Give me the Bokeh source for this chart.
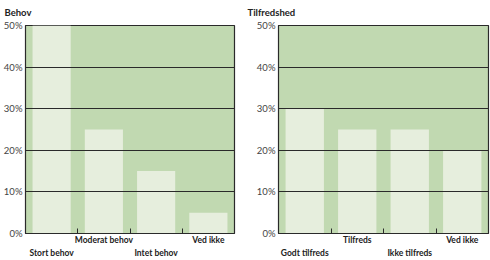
from bokeh.plotting import figure
from bokeh.layouts import row
from bokeh.models import Range1d, FixedTicker, LinearAxis, ColumnDataSource
from bokeh.embed import file_html
from bokeh.resources import INLINE

# ---- data ----
behov_title = "Behov"
behov_cats = ["Stort behov", "Moderat behov", "Intet behov", "Ved ikke"]
behov_vals = [50, 25, 15, 5]

tilfreds_title = "Tilfredshed"
tilfreds_cats = ["Godt tilfreds", "Tilfreds", "Ikke tilfreds", "Ved ikke"]
tilfreds_vals = [30, 25, 25, 20]

y_ticks = [0, 10, 20, 30, 40, 50]
y_labels = ["0%", "10%", "20%", "30%", "40%", "50%"]

BG = "#c1d9b1"
BAR = "#e6eedd"
DARK = "#2a2a2a"
FONT = "Lato"


def make_panel(title, cats, vals, width, bl, br):
    n = len(cats)
    xs = [i + 0.5 for i in range(n)]
    p = figure(width=width, height=260, output_backend="svg", toolbar_location=None,
               x_range=Range1d(0, n), y_range=Range1d(0, y_ticks[-1]),
               min_border_left=bl, min_border_right=br, min_border_top=25,
               min_border_bottom=0, x_axis_location=None)
    p.background_fill_color = BG
    p.border_fill_color = "white"
    p.outline_line_color = DARK
    p.outline_line_width = 1.2

    p.title.text = title
    p.title.text_font = FONT
    p.title.text_font_size = "9.5px"
    p.title.text_font_style = "bold"
    p.title.text_color = "#222222"
    p.title.offset = -bl + 2
    p.title.standoff = 11
    p.title.vertical_align = "top"

    src = ColumnDataSource(dict(x=xs, top=vals))
    p.vbar(x="x", top="top", width=0.73, source=src, fill_color=BAR, line_color=None)

    p.xgrid.visible = False
    p.ygrid.ticker = FixedTicker(ticks=y_ticks)
    p.ygrid.grid_line_color = DARK
    p.ygrid.grid_line_width = 1
    p.ygrid.level = "overlay"

    ya = p.yaxis[0]
    ya.ticker = FixedTicker(ticks=y_ticks)
    ya.major_label_overrides = {t: l for t, l in zip(y_ticks, y_labels)}
    ya.major_tick_in = 0
    ya.major_tick_out = 0
    ya.minor_tick_line_color = None
    ya.axis_line_color = DARK
    ya.major_label_standoff = 3
    ya.major_label_text_font = FONT
    ya.major_label_text_font_size = "9.5px"
    ya.major_label_text_color = "#444444"

    upper = [xs[i] for i in range(1, n, 2)]
    lower = [xs[i] for i in range(0, n, 2)]
    a1 = LinearAxis(ticker=FixedTicker(ticks=upper, minor_ticks=list(range(1, n))),
                    major_label_overrides={xs[i]: cats[i] for i in range(1, n, 2)})
    a2 = LinearAxis(ticker=FixedTicker(ticks=lower),
                    major_label_overrides={xs[i]: cats[i] for i in range(0, n, 2)})
    for a in (a1, a2):
        a.major_tick_in = 0
        a.major_tick_out = 0
        a.major_label_text_font = FONT
        a.major_label_text_font_size = "8.5px"
        a.major_label_text_font_style = "bold"
        a.major_label_text_color = "#222222"
    a1.major_label_standoff = 1
    a2.major_label_standoff = 0
    a1.axis_line_color = DARK
    a1.minor_tick_in = 5
    a1.minor_tick_out = 0
    a1.minor_tick_line_color = DARK
    a2.axis_line_color = None
    a2.minor_tick_line_color = None
    p.add_layout(a1, "below")
    p.add_layout(a2, "below")
    return p


p1 = make_panel(behov_title, behov_cats, behov_vals, 245, 23, 11)
p2 = make_panel(tilfreds_title, tilfreds_cats, tilfreds_vals, 245, 33, 2)
p = row(p1, p2)

open("out.html", "w").write(file_html(p, INLINE))
